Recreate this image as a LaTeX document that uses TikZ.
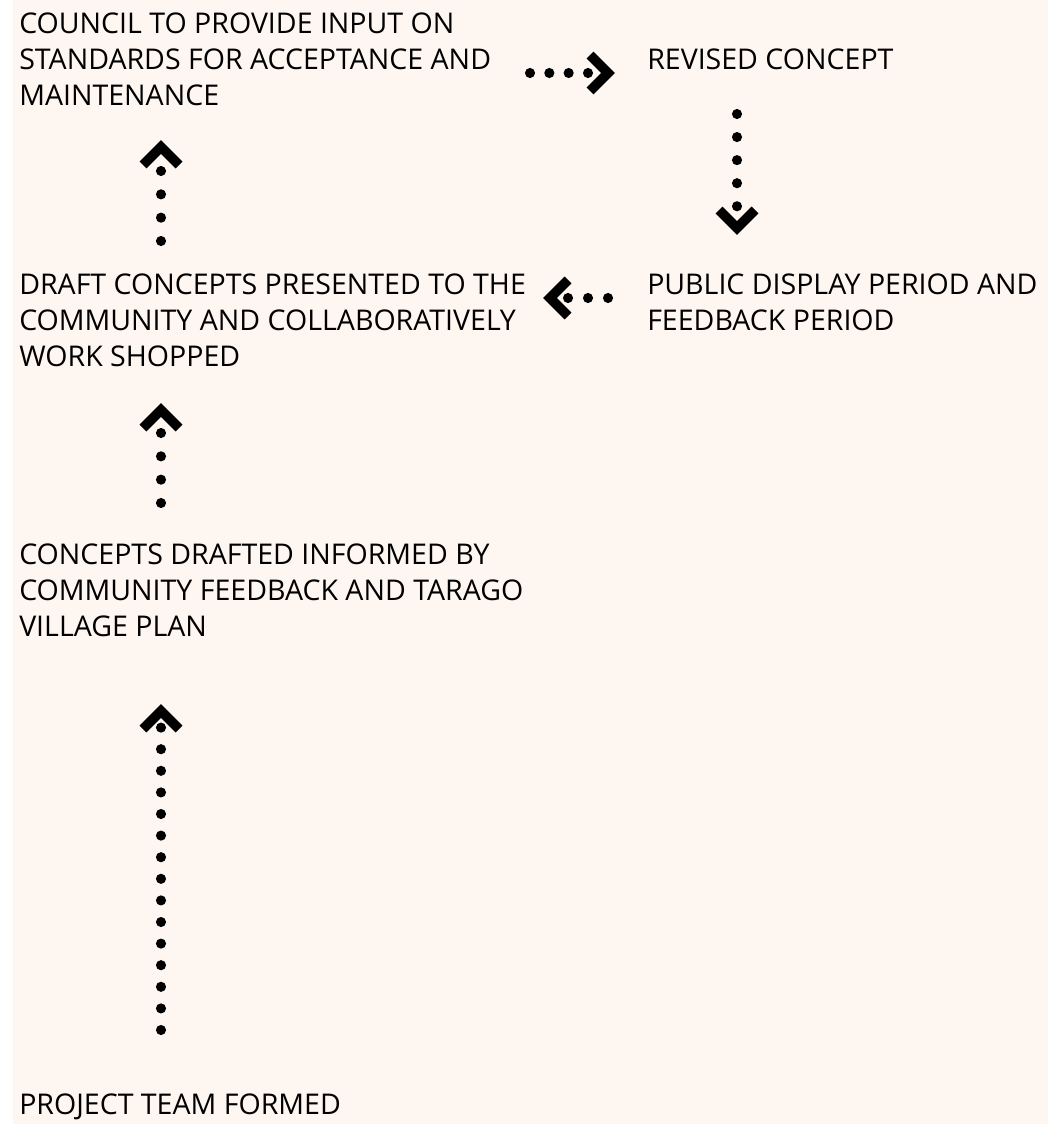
\documentclass[tikz,border=0pt]{standalone}
\usepackage{fontspec}
\setmainfont{Open Sans}
\definecolor{peach}{RGB}{254,246,241}
\begin{document}
\begin{tikzpicture}[x=0.75pt,y=-0.75pt,color=black,
  stage/.style={anchor=north west,inner sep=0pt,align=left,font=\fontsize{21.4}{27}\selectfont},
  dots/.style={line width=7.6pt,line cap=round,dash pattern=on 0pt off #1},
  chev/.pic={\draw[solid,line cap=butt,line width=7.4pt,miter limit=4] (-25,-18) -- (-7,0) -- (-25,18);}]

\useasboundingbox (0,0) rectangle (1048,1124);
\fill[peach] (13,0) rectangle (1048,1124);

\node (council) at (19,13)[stage]{COUNCIL TO PROVIDE INPUT ON\\STANDARDS FOR ACCEPTANCE AND\\MAINTENANCE};
\node (revised) at (647,49)[stage]{REVISED CONCEPT};
\node (draft) at (19,274)[stage]{DRAFT CONCEPTS PRESENTED TO THE\\COMMUNITY AND COLLABORATIVELY\\WORK SHOPPED};
\node (public) at (647,274)[stage]{PUBLIC DISPLAY PERIOD AND\\FEEDBACK PERIOD};
\node (concepts) at (19,544)[stage]{CONCEPTS DRAFTED INFORMED BY\\COMMUNITY FEEDBACK AND TARAGO\\VILLAGE PLAN};
\node (project) at (19,1094)[stage]{PROJECT TEAM FORMED};

% council -> revised
\coordinate (a1) at (530,73); \coordinate (a2) at (589,73); \coordinate (a3) at (615,73);
\draw[dots=14.5pt] (a1) -- (a2);
\pic at (a3) {chev};

% revised -> public
\coordinate (b1) at (737,114); \coordinate (b2) at (737,207); \coordinate (b3) at (737,235);
\draw[dots=17.3pt] (b1) -- (b2);
\pic[rotate=-90] at (b3) {chev};

% public -> draft
\coordinate (c1) at (608,298); \coordinate (c2) at (567,298); \coordinate (c3) at (543,298);
\draw[dots=15pt] (c1) -- (c2);
\pic[rotate=180] at (c3) {chev};

% draft -> council
\coordinate (d1) at (161,241); \coordinate (d2) at (161,170); \coordinate (d3) at (161,140);
\draw[dots=17.5pt] (d1) -- (d2);
\pic[rotate=90] at (d3) {chev};

% concepts -> draft
\coordinate (e1) at (161,503); \coordinate (e2) at (161,432); \coordinate (e3) at (161,403);
\draw[dots=17.5pt] (e1) -- (e2);
\pic[rotate=90] at (e3) {chev};

% project -> concepts
\coordinate (f1) at (161,1030); \coordinate (f2) at (161,727); \coordinate (f3) at (161,704);
\draw[dots=16.2pt] (f1) -- (f2);
\pic[rotate=90] at (f3) {chev};

\end{tikzpicture}
\end{document}
